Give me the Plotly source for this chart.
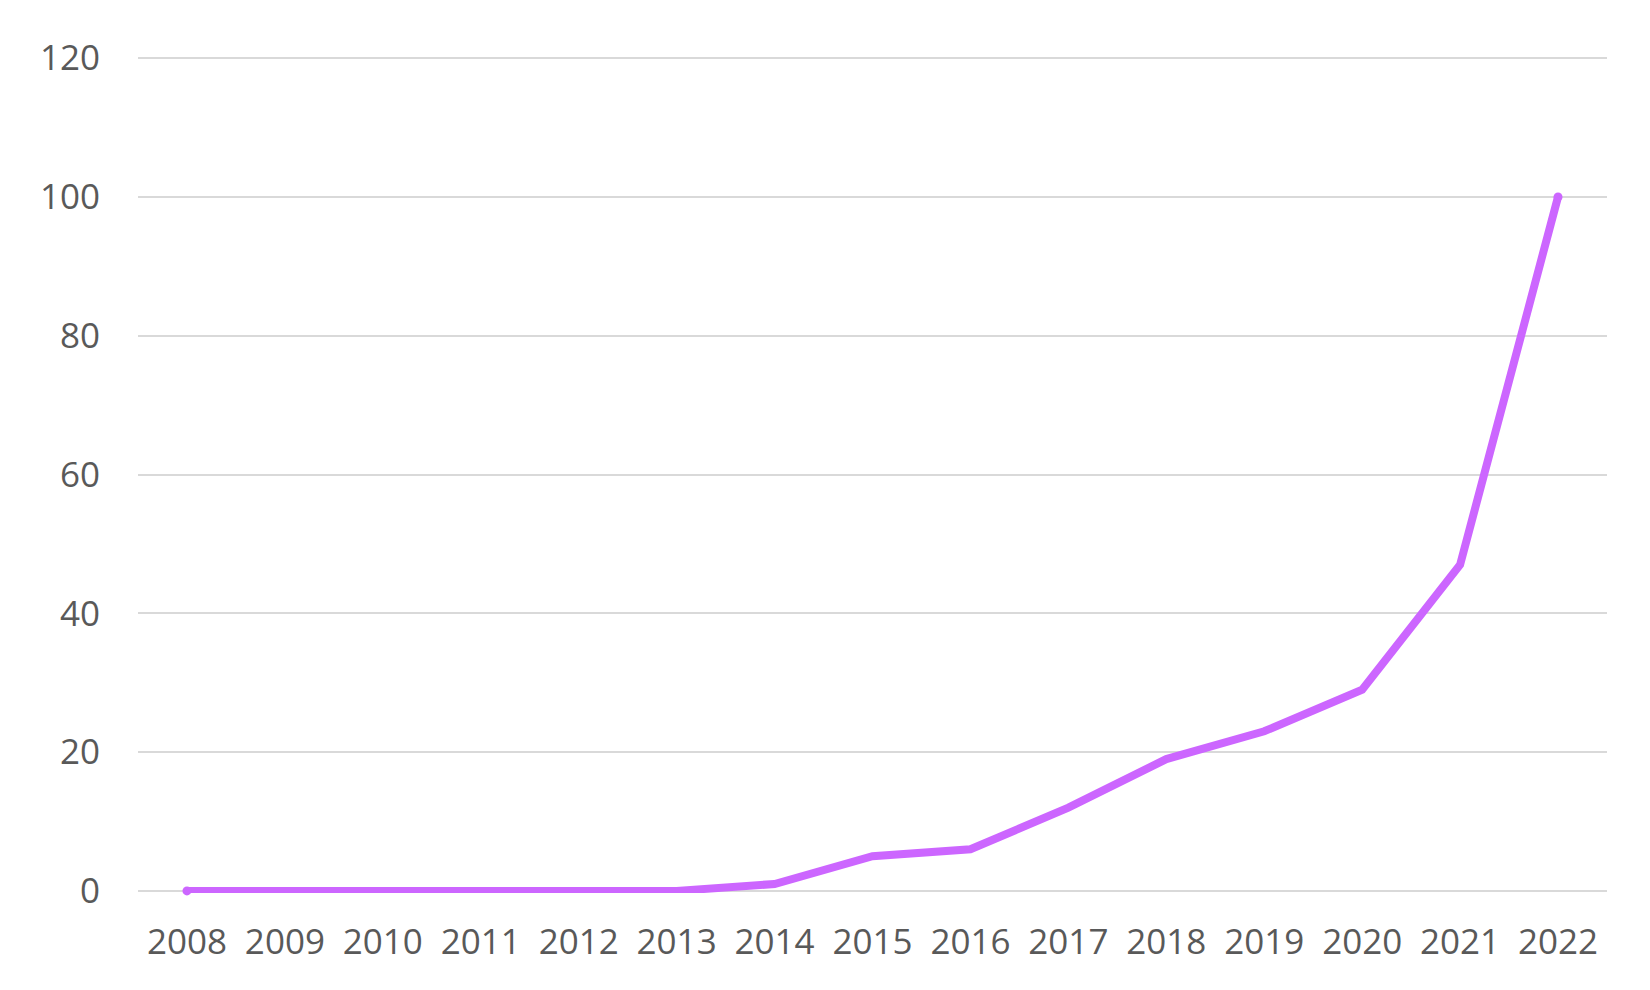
"""Yearly count line chart, 2008-2022."""

import plotly.graph_objects as go

years = ["2008", "2009", "2010", "2011", "2012", "2013", "2014", "2015",
         "2016", "2017", "2018", "2019", "2020", "2021", "2022"]
counts = [0, 0, 0, 0, 0, 0, 1, 5, 6, 12, 19, 23, 29, 47, 100]
y_ticks = [0, 20, 40, 60, 80, 100, 120]

LINE_W = 8
# round-cap look: dots only at the two ends of the line
cap_sizes = [LINE_W + 1 if i in (0, len(years) - 1) else 0 for i in range(len(years))]

fig = go.Figure()
fig.add_trace(go.Scatter(
    x=years, y=counts, mode="lines+markers",
    line=dict(color="#CC66FF", width=LINE_W),
    marker=dict(color="#CC66FF", size=cap_sizes, opacity=1, line=dict(width=0)),
    cliponaxis=False,
    showlegend=False, hoverinfo="x+y",
))

fig.update_layout(
    width=1650, height=990,
    paper_bgcolor="white", plot_bgcolor="white",
    margin=dict(l=130, r=51, t=48, b=105),
    font=dict(family="Open Sans, Liberation Sans, sans-serif", size=35, color="#595959"),
)
fig.update_xaxes(
    type="category", range=[-0.5, len(years) - 0.5],
    showgrid=False, zeroline=False, showline=False, ticks="",
    ticklabelstandoff=25,
)
# pad the range a touch so the 0 and 120 gridlines are drawn
fig.update_yaxes(
    range=[-0.3, 120.3], tickvals=y_ticks,
    showgrid=True, gridcolor="#D9D9D9", gridwidth=2,
    zeroline=False, showline=False, ticks="",
    ticklabelstandoff=37,
)

fig.write_html("out.html")
